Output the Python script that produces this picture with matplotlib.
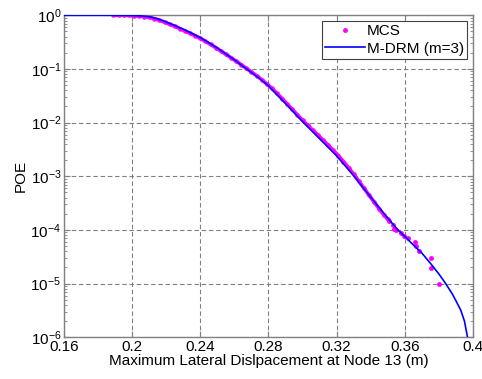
import matplotlib
matplotlib.use("Agg")
import matplotlib.pyplot as plt
from matplotlib.ticker import LogLocator, NullFormatter
import numpy as np

plt.rcParams['font.family'] = ['Liberation Sans', 'DejaVu Sans']
plt.rcParams['mathtext.fontset'] = 'custom'
plt.rcParams['mathtext.rm'] = 'Liberation Sans'
plt.rcParams['mathtext.it'] = 'Liberation Sans'

# M-DRM (m=3) curve: displacement and log10(POE)
drm_x = [0.160, 0.195, 0.200, 0.205, 0.210, 0.215, 0.220, 0.225, 0.230, 0.235,
         0.240, 0.245, 0.250, 0.255, 0.260, 0.265, 0.270, 0.275, 0.280, 0.285,
         0.290, 0.300, 0.310, 0.320, 0.330, 0.340, 0.350, 0.356, 0.360, 0.365,
         0.370, 0.375, 0.380, 0.384, 0.388, 0.3905, 0.3929, 0.395, 0.3968]
drm_logp = [0.0, 0.0, -0.003, -0.010, -0.025, -0.065, -0.125, -0.19, -0.26, -0.335,
            -0.415, -0.51, -0.61, -0.72, -0.83, -0.95, -1.065, -1.185, -1.315, -1.48,
            -1.645, -1.98, -2.30, -2.62, -2.99, -3.39, -3.78, -4.00, -4.12, -4.28,
            -4.43, -4.62, -4.82, -5.00, -5.20, -5.35, -5.50, -5.70, -6.00]

# MCS samples (dense band): displacement and log10(POE)
mcs_x = [0.189, 0.192, 0.195, 0.198, 0.201, 0.204, 0.207, 0.210, 0.213, 0.216,
         0.219, 0.222, 0.225, 0.228, 0.231, 0.234, 0.237, 0.240, 0.243, 0.246,
         0.249, 0.252, 0.255, 0.258, 0.261, 0.264, 0.267, 0.270, 0.273, 0.276,
         0.279, 0.282, 0.285, 0.288, 0.291, 0.294, 0.297, 0.300, 0.303, 0.306,
         0.309, 0.312, 0.315, 0.318, 0.321, 0.324, 0.327, 0.330, 0.333, 0.336,
         0.339, 0.342, 0.345, 0.348, 0.350]
mcs_logp = [0.0, 0.0, 0.0, -0.003, -0.008, -0.014, -0.024, -0.037, -0.062, -0.090,
            -0.128, -0.166, -0.206, -0.248, -0.291, -0.336, -0.382, -0.430, -0.486, -0.543,
            -0.602, -0.664, -0.728, -0.790, -0.854, -0.920, -0.988, -1.055, -1.125, -1.198,
            -1.278, -1.362, -1.455, -1.552, -1.652, -1.754, -1.856, -1.955, -2.050, -2.140,
            -2.232, -2.325, -2.420, -2.515, -2.615, -2.725, -2.840, -2.960, -3.090, -3.220,
            -3.350, -3.480, -3.610, -3.730, -3.800]

# MCS tail samples
tail_x = [0.3509, 0.3529, 0.3538, 0.3548, 0.3578, 0.3597, 0.3616, 0.3662, 0.3666,
          0.3685, 0.3753, 0.3753, 0.3798]
tail_logp = [-3.833, -3.907, -3.982, -4.000, -4.062, -4.112, -4.155, -4.218, -4.293,
             -4.386, -4.517, -4.703, -5.000]

xticks = [0.16, 0.2, 0.24, 0.28, 0.32, 0.36, 0.4]
xticklabels = ['0.16', '0.2', '0.24', '0.28', '0.32', '0.36', '0.4']

fig = plt.figure(figsize=(4.82, 3.79), dpi=100)
ax = fig.add_axes([0.1328, 0.110, 0.9813 - 0.1328, 0.9596 - 0.110])

mag = '#FF00FF'
ax.plot(mcs_x, 10 ** np.array(mcs_logp), color=mag, lw=2.6, solid_capstyle='round', zorder=2)
ax.plot(mcs_x, 10 ** np.array(mcs_logp), '.', color=mag, ms=4.5, zorder=2)
ax.plot(tail_x, 10 ** np.array(tail_logp), '.', color=mag, ms=5, zorder=2)
ax.plot(drm_x, 10 ** np.array(drm_logp), color='#0000FF', lw=1.2, zorder=3)

# legend proxies
h1, = ax.plot([], [], '.', color=mag, ms=5, label='MCS')
h2, = ax.plot([], [], color='#0000FF', lw=1.2, label='M-DRM (m=3)')

ax.set_yscale('log')
ax.set_xlim(0.16, 0.4)
ax.set_ylim(1e-6, 1)
ax.set_xticks(xticks)
ax.set_xticklabels(xticklabels)
ax.yaxis.set_minor_locator(LogLocator(base=10, subs=np.arange(2, 10), numticks=20))
ax.yaxis.set_minor_formatter(NullFormatter())
ax.set_yticks([1e-6, 1e-5, 1e-4, 1e-3, 1e-2, 1e-1, 1])
ax.set_yticklabels([r'$10^{-6}$', r'$10^{-5}$', r'$10^{-4}$', r'$10^{-3}$',
                    r'$10^{-2}$', r'$10^{-1}$', r'$10^{0}$'])

ax.grid(True, which='major', color='#808080', linestyle=(0, (4, 2.5)), linewidth=0.8)
ax.tick_params(which='both', direction='in', top=True, right=True, colors='#808080',
               labelcolor='black', labelsize=11)
ax.tick_params(which='major', length=4)
ax.tick_params(which='minor', length=2)
ax.tick_params(axis='x', pad=2)
ax.tick_params(axis='y', pad=2)
for s in ax.spines.values():
    s.set_color('#808080')
    s.set_linewidth(1.0)

ax.set_xlabel('Maximum Lateral Dislpacement at Node 13 (m)', fontsize=11, labelpad=0)
ax.set_ylabel('POE', fontsize=11, labelpad=2)

leg = ax.legend(handles=[h1, h2], loc='upper right', fontsize=11, fancybox=False,
                framealpha=1, edgecolor='#404040', borderaxespad=0.4,
                handlelength=2.6, handletextpad=0.1, borderpad=0.2, labelspacing=0.2)
leg.get_frame().set_linewidth(0.8)

fig.savefig('out.png', dpi=100)
